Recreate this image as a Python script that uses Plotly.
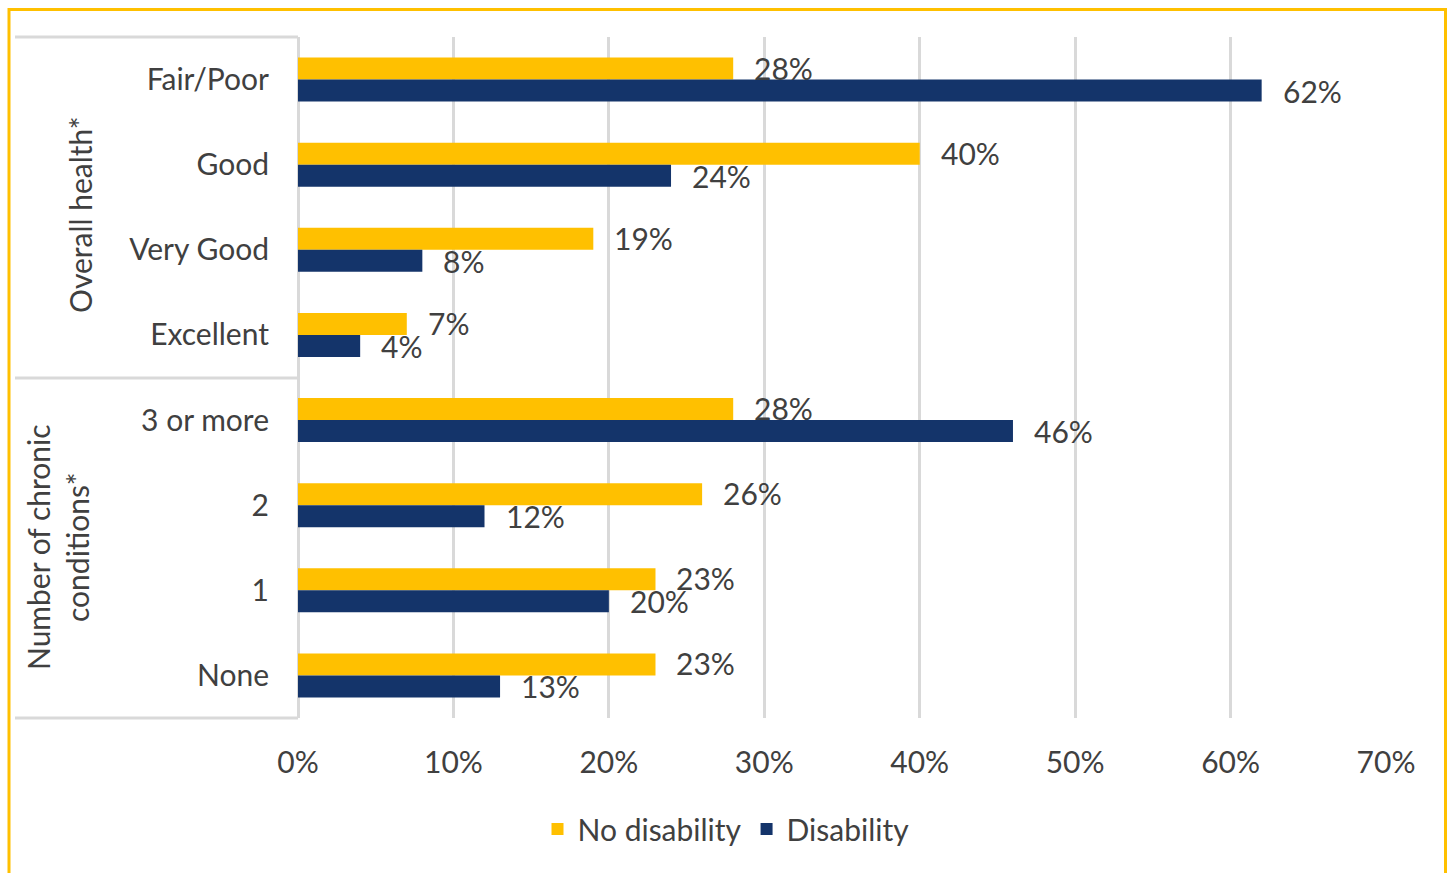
import plotly.graph_objects as go

# Categories, top to bottom
categories = ["Fair/Poor", "Good", "Very Good", "Excellent",
              "3 or more", "2", "1", "None"]
no_disability = [28, 40, 19, 7, 28, 26, 23, 23]
disability = [62, 24, 8, 4, 46, 12, 20, 13]
group_labels = ["Overall health*", "Number of chronic<br>conditions*"]
x_ticks = [0, 10, 20, 30, 40, 50, 60, 70]
x_tick_text = [f"{v}%" for v in x_ticks]

W, H = 1448, 873
L, R, T, B = 298, 62, 37, 155
PW, PH = W - L - R, H - T - B

FONT = "Lato"
TEXT = "#404040"
ORANGE = "#FFC000"
NAVY = "#14346A"
GRID = "#D9D9D9"
FS = 30


def px_x(p):
    return (p - L) / PW


def px_y(p):
    return (H - B - p) / PH


fig = go.Figure()
fig.add_trace(go.Bar(y=categories, x=no_disability, orientation="h",
                     name="No disability", marker=dict(color=ORANGE, line_width=0)))
fig.add_trace(go.Bar(y=categories, x=disability, orientation="h",
                     name="Disability", marker=dict(color=NAVY, line_width=0)))

annotations = []
# value labels; y given as category index so "1"/"2" are not read as positions
for i, v in enumerate(no_disability):
    annotations.append(dict(x=v, y=i, xref="x", yref="y", text=f"{v}%",
                            showarrow=False, xanchor="left", yanchor="middle",
                            xshift=19, yshift=12,
                            font=dict(family=FONT, size=FS, color=TEXT)))
for i, v in enumerate(disability):
    annotations.append(dict(x=v, y=i, xref="x", yref="y", text=f"{v}%",
                            showarrow=False, xanchor="left", yanchor="middle",
                            xshift=19, yshift=-11,
                            font=dict(family=FONT, size=FS, color=TEXT)))

# rotated group labels
annotations.append(dict(x=px_x(80), y=px_y(215), xref="paper", yref="paper",
                        text=group_labels[0], textangle=-90, showarrow=False,
                        xanchor="center", yanchor="middle",
                        font=dict(family=FONT, size=FS, color=TEXT)))
annotations.append(dict(x=px_x(57), y=px_y(547), xref="paper", yref="paper",
                        text=group_labels[1], textangle=-90, showarrow=False,
                        xanchor="center", yanchor="middle",
                        font=dict(family=FONT, size=FS, color=TEXT)))

shapes = []
# left category box lines
for yy in (37, 378, 718):
    shapes.append(dict(type="line", xref="paper", yref="paper",
                       x0=px_x(15), x1=px_x(298), y0=px_y(yy), y1=px_y(yy),
                       line=dict(color=GRID, width=3)))
# outer frame
frame = ORANGE
shapes.append(dict(type="line", xref="paper", yref="paper",
                   x0=px_x(8), x1=px_x(1446), y0=px_y(9.5), y1=px_y(9.5),
                   line=dict(color=frame, width=3)))
shapes.append(dict(type="line", xref="paper", yref="paper",
                   x0=px_x(9), x1=px_x(9), y0=px_y(8), y1=px_y(880),
                   line=dict(color=frame, width=3)))
shapes.append(dict(type="line", xref="paper", yref="paper",
                   x0=px_x(1445.5), x1=px_x(1445.5), y0=px_y(8), y1=px_y(880),
                   line=dict(color=frame, width=3)))

fig.update_layout(
    width=W, height=H,
    margin=dict(l=L, r=R, t=T, b=B),
    paper_bgcolor="white", plot_bgcolor="white",
    barmode="group", bargap=0.483, bargroupgap=0,
    font=dict(family=FONT, size=FS, color=TEXT),
    showlegend=True,
    legend=dict(orientation="h", x=px_x(726), y=px_y(829),
                xanchor="center", yanchor="middle",
                font=dict(family=FONT, size=FS, color=TEXT),
                itemwidth=30, traceorder="normal"),
    xaxis=dict(range=[0, 70], tickmode="array", tickvals=x_ticks, ticktext=x_tick_text,
               showgrid=True, gridcolor=GRID, gridwidth=3,
               zeroline=True, zerolinecolor=GRID, zerolinewidth=3,
               showline=False, ticks="", ticklabelstandoff=24,
               tickfont=dict(family=FONT, size=FS, color=TEXT)),
    yaxis=dict(type="category", categoryorder="array", categoryarray=categories,
               range=[7.5, -0.5], showgrid=False, zeroline=False,
               showline=False, ticks="", ticklabelstandoff=28,
               tickfont=dict(family=FONT, size=FS, color=TEXT)),
    annotations=annotations,
    shapes=shapes,
)

fig.write_html("out.html")
